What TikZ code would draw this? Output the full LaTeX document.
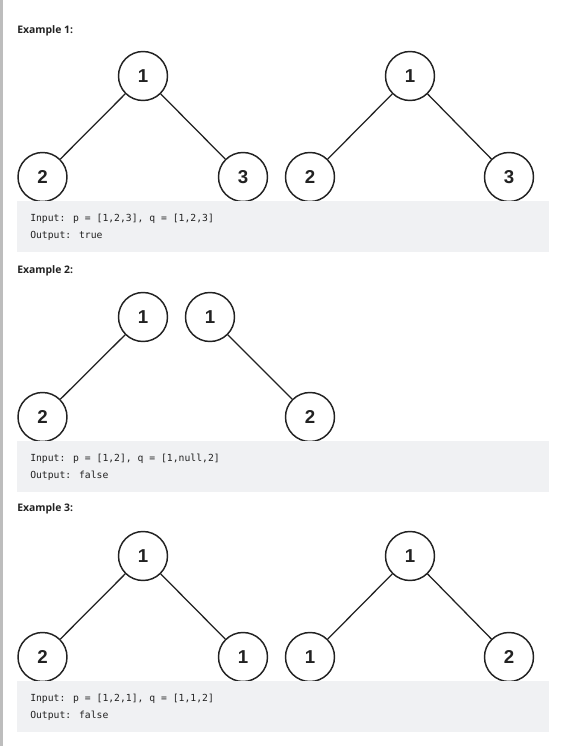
\documentclass[tikz,border=0pt]{standalone}
\usepackage{fontspec}
\setmainfont{Open Sans}
\newfontfamily\codefont{DejaVu Sans Mono}
\newfontfamily\digitfont{Liberation Sans}
\definecolor{codebg}{HTML}{F0F1F3}
\definecolor{barcol}{HTML}{BDBDBD}
\definecolor{inkcol}{HTML}{222222}
\tikzset{
  tn/.style={draw=inkcol,circle,line width=1.1pt,minimum size=36.75pt,inner sep=0pt,
    font=\digitfont\bfseries\fontsize{14pt}{14pt}\selectfont,text=inkcol},
  edge/.style={draw=inkcol,line width=0.95pt},
  exlabel/.style={anchor=west,inner sep=0pt,font=\bfseries\fontsize{7.8pt}{9pt}\selectfont,text=inkcol},
  codetxt/.style={anchor=west,inner sep=0pt,font=\codefont\fontsize{7.3pt}{9pt}\selectfont,text=inkcol}
}
\begin{document}
\begin{tikzpicture}[x=0.75pt,y=-0.75pt]
\useasboundingbox (0,0) rectangle (563,746);
\fill[white] (0,0) rectangle (563,746);
\fill[barcol] (0,0) rectangle (2.5,746);
\node[exlabel] (ex1) at (17,31) {Example 1:};
\node[tn] (p11) at (143,76) {1};
\node[tn] (p12) at (42.5,177) {2};
\node[tn] (p13) at (243,177) {3};
\node[tn] (q11) at (410,76) {1};
\node[tn] (q12) at (310,177) {2};
\node[tn] (q13) at (509,177) {3};
\draw[edge] (p11)--(p12);
\draw[edge] (p11)--(p13);
\draw[edge] (q11)--(q12);
\draw[edge] (q11)--(q13);
\fill[codebg] (17,201) rectangle (549,252);
\node[codetxt] (in1) at (30,219) {Input: p = [1,2,3], q = [1,2,3]};
\node[codetxt] (out1) at (30,236) {Output: true};
\node[exlabel] (ex2) at (17,271) {Example 2:};
\node[tn] (p21) at (143,317) {1};
\node[tn] (p22) at (42.5,417) {2};
\node[tn] (q21) at (210,317) {1};
\node[tn] (q22) at (310,417) {2};
\draw[edge] (p21)--(p22);
\draw[edge] (q21)--(q22);
\fill[codebg] (17,441) rectangle (549,492);
\node[codetxt] (in2) at (30,459) {Input: p = [1,2], q = [1,null,2]};
\node[codetxt] (out2) at (30,476) {Output: false};
\node[exlabel] (ex3) at (17,509) {Example 3:};
\node[tn] (p31) at (143,556) {1};
\node[tn] (p32) at (42.5,657) {2};
\node[tn] (p33) at (243,657) {1};
\node[tn] (q31) at (410,556) {1};
\node[tn] (q32) at (310,657) {1};
\node[tn] (q33) at (509,657) {2};
\draw[edge] (p31)--(p32);
\draw[edge] (p31)--(p33);
\draw[edge] (q31)--(q32);
\draw[edge] (q31)--(q33);
\fill[codebg] (17,681) rectangle (549,732);
\node[codetxt] (in3) at (30,699) {Input: p = [1,2,1], q = [1,1,2]};
\node[codetxt] (out3) at (30,716) {Output: false};
\end{tikzpicture}
\end{document}
